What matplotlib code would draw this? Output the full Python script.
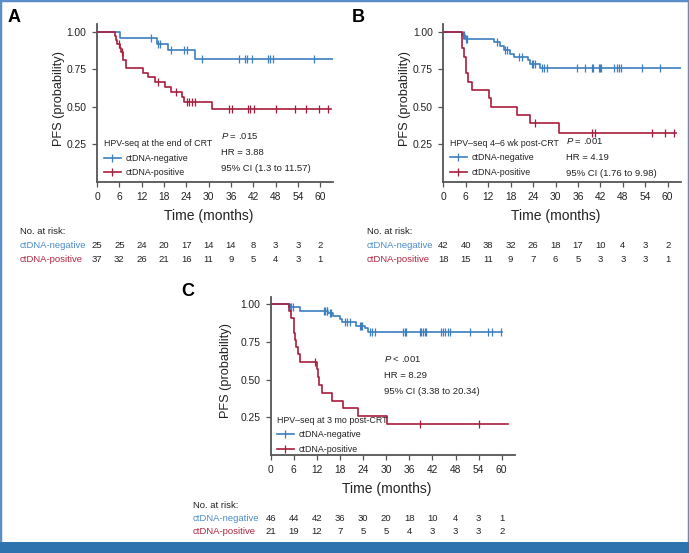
import numpy as np
import matplotlib
matplotlib.use("Agg")
from matplotlib import pyplot as plt
from matplotlib.lines import Line2D
from matplotlib.patches import Rectangle
from matplotlib import transforms

plt.rcParams['font.family'] = ['Liberation Sans', 'DejaVu Sans']
plt.rcParams['mathtext.fontset'] = 'custom'
plt.rcParams['mathtext.it'] = 'Liberation Sans:italic'
plt.rcParams['mathtext.rm'] = 'Liberation Sans'

BLUE = '#3c7fc0'
RED = '#a81d3b'
BLUE_TXT = '#4a8cc8'
RED_TXT = '#b0243f'
GREY = '#555555'
INK = '#222222'
SMALL = 6.8
LEG = 6.4

months = [0, 6, 12, 18, 24, 30, 36, 42, 48, 54, 60]

# Panel A: HPV-seq at the end of CRT
A_neg_t = [6.2, 16.2, 19.2, 26.3]
A_neg_s = [0.96, 0.92, 0.876, 0.82]
A_neg_c = [14.4, 16.5, 16.9, 20.0, 23.5, 24.3, 28.3, 38.3, 39.8, 40.2, 41.8, 46.0, 46.6, 47.3, 58.3]
A_neg_end = 63.5
A_pos_t = [4.8, 5.1, 5.4, 6.1, 6.5, 7.1, 7.9, 12.4, 13.6, 15.5, 18.3, 19.9, 22.8, 23.4, 31.0]
A_pos_s = [0.973, 0.946, 0.92, 0.892, 0.865, 0.81, 0.757, 0.727, 0.697, 0.667, 0.633, 0.60, 0.567, 0.533, 0.484]
A_pos_c = [5.8, 6.6, 16.5, 21.2, 24.3, 24.6, 25.5, 26.4, 35.6, 36.3, 40.5, 41.2, 42.2, 48.2, 53.3, 56.2, 59.6, 62.1]
A_pos_end = 63.0
A_neg_risk = [25, 25, 24, 20, 17, 14, 14, 8, 3, 3, 2]
A_pos_risk = [37, 32, 26, 21, 16, 11, 9, 5, 4, 3, 1]

# Panel B: HPV-seq 4-6 wk post-CRT
B_neg_t = [4.9, 5.8, 13.6, 15.2, 16.3, 17.8, 18.9, 22.7, 23.2, 25.9]
B_neg_s = [0.976, 0.953, 0.93, 0.905, 0.878, 0.853, 0.83, 0.81, 0.787, 0.758]
B_neg_c = [5.4, 5.5, 6.1, 6.3, 14.4, 16.6, 16.9, 20.2, 21.0, 23.6, 24.1, 24.4, 26.3, 26.9, 27.6,
           35.8, 37.9, 39.8, 40.1, 41.7, 41.9, 42.1, 45.7, 46.4, 46.9, 47.5, 53.1, 58.0]
B_neg_end = 63.5
B_pos_t = [4.9, 5.5, 6.1, 6.7, 7.8, 12.2, 12.7, 19.6, 23.2, 30.9]
B_pos_s = [0.889, 0.833, 0.722, 0.667, 0.611, 0.556, 0.5, 0.444, 0.389, 0.324]
B_pos_c = [24.5, 39.8, 40.6, 55.9, 59.3, 61.8]
B_pos_end = 62.3
B_neg_risk = [42, 40, 38, 32, 26, 18, 17, 10, 4, 3, 2]
B_pos_risk = [18, 15, 11, 9, 7, 6, 5, 3, 3, 3, 1]

# Panel C: HPV-seq at 3 mo post-CRT
C_neg_t = [4.7, 7.5, 14.9, 16.2, 17.9, 18.5, 22.2, 24.4, 25.3]
C_neg_s = [0.978, 0.956, 0.938, 0.921, 0.90, 0.883, 0.856, 0.839, 0.817]
C_neg_c = [4.9, 5.4, 5.8, 13.9, 14.2, 14.5, 14.7, 15.3, 15.7, 19.4, 19.9, 20.5, 23.1, 23.5, 23.8,
           25.7, 26.3, 27.0, 34.4, 34.8, 35.2, 38.7, 39.1, 39.6, 40.0, 40.4, 44.3, 44.7, 45.2,
           46.1, 46.5, 51.7, 56.4, 57.6, 59.9]
C_neg_end = 60.2
C_pos_t = [4.8, 5.4, 6.0, 6.1, 6.3, 6.7, 7.2, 7.6, 12.1, 12.3, 12.6, 13.2, 16.0, 18.9, 22.8, 30.1]
C_pos_s = [0.952, 0.905, 0.857, 0.81, 0.762, 0.714, 0.667, 0.619, 0.567, 0.516, 0.464, 0.413,
           0.361, 0.31, 0.258, 0.206]
C_pos_c = [11.6, 38.9, 54.2]
C_pos_end = 61.7
C_neg_risk = [46, 44, 42, 36, 30, 20, 18, 10, 4, 3, 1]
C_pos_risk = [21, 19, 12, 7, 5, 5, 4, 3, 3, 3, 2]

W, H = 689, 553
fig = plt.figure(figsize=(W / 100, H / 100), dpi=100)


def fx(px):
    return px / W


def fy(py):
    return 1 - py / H


def km(ax, t, s, c, end, color):
    x = [0] + t + [end]
    y = [1] + s + [s[-1]]
    ax.step(x, y, where='post', color=color, lw=1.2)
    idx = np.searchsorted(t, c, side='right')
    cy = np.r_[1, s][idx]
    ax.plot(c, cy, ls='none', marker='|', ms=6, mew=0.9, color=color)


def panel(left, top, bottom, ppm, letter, letter_xy, neg, pos, title, stats,
          stats_xy, leg_xy, ylab_x, xlab_y, risk_x, risk_y, neg_risk, pos_risk):
    width = 63.5 * ppm
    ax = fig.add_axes([fx(left), fy(bottom), width / W, (bottom - top) / H])
    km(ax, *neg, BLUE)
    km(ax, *pos, RED)
    ax.set_xlim(0, 63.5)
    ax.set_ylim(0, 1.05)
    ax.set_xticks(months)
    ax.set_yticks([0.25, 0.5, 0.75, 1.0])
    ax.set_yticklabels(['0.25', '0.50', '0.75', '1.00'])
    for sp in ['top', 'right']:
        ax.spines[sp].set_visible(False)
    for sp in ['left', 'bottom']:
        ax.spines[sp].set_color(GREY)
        ax.spines[sp].set_linewidth(1.3)
    ax.tick_params(length=3.5, width=0.9, color=GREY, labelsize=7.4, labelcolor=INK, pad=4)

    fig.text(fx(letter_xy[0]), fy(letter_xy[1]), letter, fontsize=13, fontweight='bold',
             ha='center', va='center')
    fig.text(fx(ylab_x), fy((top + bottom) / 2 - 5), 'PFS (probability)', rotation=90,
             fontsize=9.2, ha='center', va='center', color=INK)
    fig.text(fx(left + 30 * ppm), fy(xlab_y), 'Time (months)', fontsize=10,
             ha='center', va='center', color=INK)

    handles = [Line2D([], [], color=BLUE, lw=1.2, marker='|', ms=6, mew=0.9),
               Line2D([], [], color=RED, lw=1.2, marker='|', ms=6, mew=0.9)]
    leg = ax.legend(handles, ['ctDNA-negative', 'ctDNA-positive'], title=title,
                    loc='upper left', bbox_to_anchor=(fx(leg_xy[0]), fy(leg_xy[1])),
                    bbox_transform=fig.transFigure, frameon=False, fontsize=LEG,
                    title_fontsize=LEG, handlelength=1.9, handletextpad=0.5,
                    labelspacing=0.6, borderpad=0, borderaxespad=0, alignment='left')
    for txt in leg.get_texts():
        txt.set_color(INK)
    leg.get_title().set_color(INK)

    for i, line in enumerate(stats):
        fig.text(fx(stats_xy[0]), fy(stats_xy[1] + i * 16), line, fontsize=SMALL,
                 ha='left', va='center', color=INK)

    # numbers at risk table
    tr = transforms.blended_transform_factory(ax.transData, fig.transFigure)
    fig.text(fx(risk_x), fy(risk_y), 'No. at risk:', fontsize=SMALL, ha='left', va='center',
             color=INK)
    fig.text(fx(risk_x), fy(risk_y + 13.5), 'ctDNA-negative', fontsize=SMALL, ha='left',
             va='center', color=BLUE_TXT)
    fig.text(fx(risk_x), fy(risk_y + 27), 'ctDNA-positive', fontsize=SMALL, ha='left',
             va='center', color=RED_TXT)
    for m, n1, n2 in zip(months, neg_risk, pos_risk):
        ax.text(m, fy(risk_y + 13.5), str(n1), transform=tr, fontsize=SMALL, ha='center',
                va='center', color=INK)
        ax.text(m, fy(risk_y + 27), str(n2), transform=tr, fontsize=SMALL, ha='center',
                va='center', color=INK)
    return ax


panel(97, 24, 182, 3.72, 'A', (14, 17.5),
      (A_neg_t, A_neg_s, A_neg_c, A_neg_end), (A_pos_t, A_pos_s, A_pos_c, A_pos_end),
      'HPV-seq at the end of CRT',
      [r'$\it{P}$ = .015', 'HR = 3.88', '95% CI (1.3 to 11.57)'], (221, 136),
      (104, 139.5), 59, 216, 20, 232, A_neg_risk, A_pos_risk)

panel(443.3, 24, 182, 3.74, 'B', (358, 17.5),
      (B_neg_t, B_neg_s, B_neg_c, B_neg_end), (B_pos_t, B_pos_s, B_pos_c, B_pos_end),
      'HPV\u2013seq 4\u20136 wk post-CRT',
      [r'$\it{P}$ = .001', 'HR = 4.19', '95% CI (1.76 to 9.98)'], (566, 141.5),
      (450, 139), 405, 216, 367, 232, B_neg_risk, B_pos_risk)

panel(270.7, 296.5, 455, 3.85, 'C', (187.5, 292),
      (C_neg_t, C_neg_s, C_neg_c, C_neg_end), (C_pos_t, C_pos_s, C_pos_c, C_pos_end),
      'HPV\u2013seq at 3 mo post-CRT',
      [r'$\it{P}$ < .001', 'HR = 8.29', '95% CI (3.38 to 20.34)'], (384, 359),
      (277, 416), 226, 489, 193, 505, C_neg_risk, C_pos_risk)

# journal frame and footer band
fig.patches.append(Rectangle((0, 0), 1, 1, transform=fig.transFigure, fill=False,
                             edgecolor='#5b8ec6', lw=2.5))
fig.patches.append(Rectangle((0, 0), 1, 11 / H, transform=fig.transFigure,
                             facecolor='#2f73ae', edgecolor='none'))

fig.savefig('out.png', dpi=100)
